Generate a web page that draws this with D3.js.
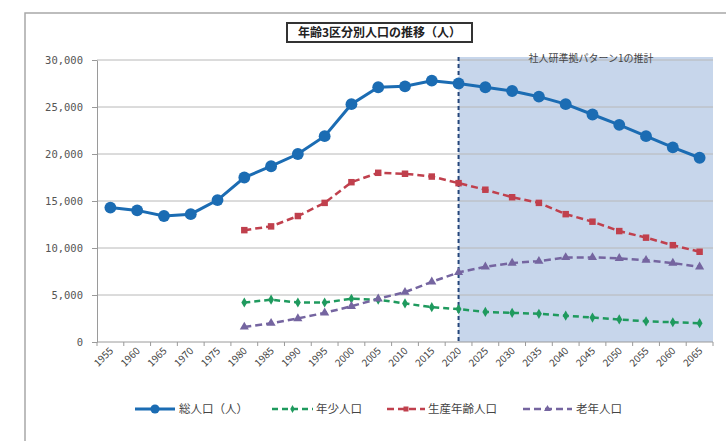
<!DOCTYPE html>
<html>
<head>
<meta charset="utf-8">
<script src="https://cdn.jsdelivr.net/npm/d3@7"></script>
<style>
  body { margin: 0; background: #fff; }
  svg text { font-family: "Noto Sans CJK JP", "DejaVu Sans", sans-serif; }
  .num { font-family: "DejaVu Sans Mono", monospace; }
</style>
</head>
<body>
<div id="chart"></div>
<script>
// data
let years = ['1955','1960','1965','1970','1975','1980','1985','1990','1995','2000','2005','2010',
             '2015','2020','2025','2030','2035','2040','2045','2050','2055','2060','2065']
let total   = [14300,14000,13400,13600,15100,17500,18700,20000,21900,25300,27100,27200,
               27800,27500,27100,26700,26100,25300,24200,23100,21900,20700,19600]
let young   = [null,null,null,null,null,4200,4500,4200,4200,4600,4500,4100,
               3700,3500,3200,3100,3000,2800,2600,2400,2200,2100,2000]
let working = [null,null,null,null,null,11900,12300,13400,14800,17000,18000,17900,
               17600,16900,16200,15400,14800,13600,12800,11800,11100,10300,9600]
let elderly = [null,null,null,null,null,1600,2000,2500,3100,3800,4600,5300,
               6400,7400,8000,8400,8600,9000,9000,8900,8700,8400,8000]
let yTicks = [0,5000,10000,15000,20000,25000,30000]
let seriesNames = ['総人口（人）','年少人口','生産年齢人口','老年人口']
let title = '年齢3区分別人口の推移（人）'
let note = '社人研準拠パターン1の推計'
let splitYear = '2020'

const W = 726, H = 441
let margin = {top: 60, right: 13, bottom: 99, left: 97}

var svg = d3.select('#chart').append('svg')
    .attr('width', W)
    .attr('height', H)

// outer frame
svg.append('rect')
    .attr('x', 25).attr('y', 13)
    .attr('width', W).attr('height', H)
    .attr('fill', 'none')
    .attr('stroke', '#a8a8a8')
    .attr('stroke-width', 1.5)

var x = d3.scalePoint()
    .domain(years)
    .range([margin.left, W - margin.right])
    .padding(0.5)
var step = x.step()

var y = d3.scaleLinear()
    .domain([0, 30000])
    .range([H - margin.bottom, margin.top])

// projection shading
svg.append('rect')
    .attr('x', x(splitYear))
    .attr('y', y(30000) - 3)
    .attr('width', (W - margin.right) - x(splitYear))
    .attr('height', y(0) - y(30000) + 3)
    .attr('fill', '#c7d6eb')

// gridlines
svg.append('g')
    .selectAll('line')
    .data(yTicks.filter(d => d > 0))
    .enter()
    .append('line')
    .attr('x1', margin.left).attr('x2', W - margin.right)
    .attr('y1', d => y(d)).attr('y2', d => y(d))
    .attr('stroke', '#b8b8b8')
    .attr('stroke-width', 1)

// y axis
var yAxis = svg.append('g')
    .attr('transform', 'translate(' + margin.left + ',0)')
    .call(d3.axisLeft(y).tickValues(yTicks).tickSize(0).tickPadding(14)
        .tickFormat(d3.format(',')))
yAxis.select('.domain').attr('stroke', '#9a9a9a')
yAxis.selectAll('text')
    .attr('class', 'num')
    .attr('font-size', 10.5)
    .attr('fill', '#555')
yAxis.selectAll('.tick').append('line')
    .attr('x1', -5).attr('x2', 0)
    .attr('stroke', '#9a9a9a')

// x axis
var xg = svg.append('g')
svg.append('line')
    .attr('x1', margin.left).attr('x2', W - margin.right)
    .attr('y1', y(0)).attr('y2', y(0))
    .attr('stroke', '#9a9a9a')
xg.selectAll('line')
    .data(years.concat(['end']))
    .enter()
    .append('line')
    .attr('x1', (d, i) => margin.left + i * step)
    .attr('x2', (d, i) => margin.left + i * step)
    .attr('y1', y(0)).attr('y2', y(0) + 4)
    .attr('stroke', '#9a9a9a')
xg.selectAll('text')
    .data(years)
    .enter()
    .append('text')
    .attr('transform', d => 'translate(' + (x(d) + 1) + ',' + (y(0) + 7) + ') rotate(-45)')
    .attr('text-anchor', 'end')
    .attr('dy', '0.35em')
    .attr('font-size', 10)
    .attr('fill', '#444')
    .text(d => d)

// 2020 divider
svg.append('line')
    .attr('x1', x(splitYear)).attr('x2', x(splitYear))
    .attr('y1', y(30000) - 3).attr('y2', y(0))
    .attr('stroke', '#24457a')
    .attr('stroke-width', 2)
    .attr('stroke-dasharray', '4,3')

svg.append('text')
    .attr('x', 591).attr('y', 62)
    .attr('text-anchor', 'middle')
    .attr('font-size', 10)
    .attr('fill', '#444')
    .text(note)

// series
var series = [
    {name: seriesNames[1], values: young,   color: '#1f9a5e', dash: '6,4', width: 2.5, shape: d3.symbolDiamond, size: 30},
    {name: seriesNames[2], values: working, color: '#c0404d', dash: '7,4', width: 2.5, shape: d3.symbolSquare,  size: 42},
    {name: seriesNames[3], values: elderly, color: '#7565a0', dash: '7,4', width: 2.5, shape: d3.symbolTriangle, size: 36},
    {name: seriesNames[0], values: total,   color: '#1b6cb3', dash: null,  width: 3,   shape: d3.symbolCircle,  size: 110}
]

var line = d3.line()
    .defined(d => d.v != null)
    .x(d => x(d.year))
    .y(d => y(d.v))

series.forEach(function(s) {
    var pts = years.map((yr, i) => ({year: yr, v: s.values[i]}))
    svg.append('path')
        .datum(pts)
        .attr('d', line)
        .attr('fill', 'none')
        .attr('stroke', s.color)
        .attr('stroke-width', s.width)
        .attr('stroke-dasharray', s.dash)
    svg.append('g')
        .selectAll('path')
        .data(pts.filter(d => d.v != null))
        .enter()
        .append('path')
        .attr('transform', d => 'translate(' + x(d.year) + ',' + y(d.v) + ')')
        .attr('d', d3.symbol().type(s.shape).size(s.size))
        .attr('fill', s.color)
})

// title box
var tg = svg.append('g')
tg.append('rect')
    .attr('x', 287).attr('y', 23)
    .attr('width', 185).attr('height', 19)
    .attr('fill', '#fff')
    .attr('stroke', '#333')
    .attr('stroke-width', 2)
tg.append('text')
    .attr('x', 379.5).attr('y', 37)
    .attr('text-anchor', 'middle')
    .attr('font-size', 12)
    .attr('font-weight', 'bold')
    .attr('fill', '#222')
    .text(title)

// legend
var legendItems = [
    {s: series[3], x0: 135, x1: 175, tx: 179},
    {s: series[0], x0: 272, x1: 313, tx: 316},
    {s: series[1], x0: 387, x1: 425, tx: 428},
    {s: series[2], x0: 523, x1: 572, tx: 576}
]
var ly = 409
legendItems.forEach(function(it) {
    svg.append('line')
        .attr('x1', it.x0).attr('x2', it.x1)
        .attr('y1', ly).attr('y2', ly)
        .attr('stroke', it.s.color)
        .attr('stroke-width', it.s.width)
        .attr('stroke-dasharray', it.s.dash)
    svg.append('path')
        .attr('transform', 'translate(' + ((it.x0 + it.x1) / 2) + ',' + ly + ')')
        .attr('d', d3.symbol().type(it.s.shape).size(it.s.size * 0.6))
        .attr('fill', it.s.color)
    svg.append('text')
        .attr('x', it.tx).attr('y', ly + 4)
        .attr('font-size', 11.5)
        .attr('fill', '#444')
        .text(it.s.name)
})
</script>
</body>
</html>
